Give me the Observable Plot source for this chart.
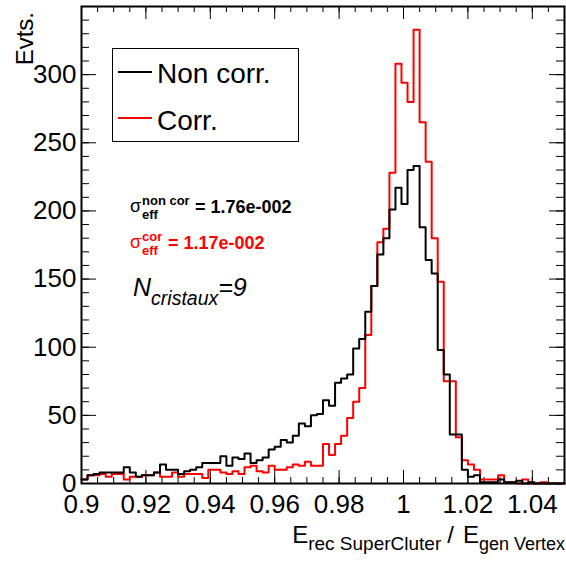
<!DOCTYPE html>
<html>
<head>
<meta charset="utf-8">
<script src="https://cdn.jsdelivr.net/npm/d3@7"></script>
<script src="https://cdn.jsdelivr.net/npm/@observablehq/plot@0.6"></script>
<style>
  html, body { margin: 0; padding: 0; background: white; }
</style>
</head>
<body>
<div id="chart"></div>
<script>
// ---- data ----
const xMin = 0.9;
const xMax = 1.05;
const nBins = 80;
const nonCorr = [
  3, 6, 7, 8, 8, 8, 8, 12, 8, 5,
  6, 6, 8, 14, 10, 10, 7, 9, 10, 12,
  15, 15, 15, 20, 13, 19, 18, 22, 15, 17,
  19, 25, 27, 32, 30, 35, 44, 42, 50, 51,
  61, 57, 74, 77, 80, 99, 106, 126, 145, 168,
  180, 201, 217, 205, 230, 233, 188, 164, 154, 98,
  80, 36, 36, 10, 5, 6, 1, 1, 1, 3,
  1, 1, 2, 0, 1, 0, 0, 0, 0, 0
];
const corr = [
  3, 6, 6, 7, 5, 7, 7, 3, 5, 5,
  6, 6, 8, 5, 5, 8, 5, 7, 7, 7,
  4, 10, 10, 8, 7, 9, 7, 12, 13, 9,
  8, 13, 10, 10, 12, 14, 13, 16, 13, 13,
  29, 21, 29, 35, 48, 60, 70, 109, 145, 177,
  187, 228, 308, 294, 280, 333, 265, 236, 180, 148,
  75, 75, 34, 17, 14, 10, 3, 3, 3, 6,
  1, 1, 0, 3, 0, 0, 1, 0, 0, 0
];
const xMajorTicks = [0.9, 0.92, 0.94, 0.96, 0.98, 1.0, 1.02, 1.04];
const yMajorTicks = [0, 50, 100, 150, 200, 250, 300];
const seriesNames = ["Non corr.", "Corr."];
const seriesColors = ["#000000", "#ff0000"];

// ---- build step data ----
const binW = (xMax - xMin) / nBins;
function steps(counts) {
  const pts = counts.map((v, i) => ({x: xMin + i * binW, y: v}));
  pts.push({x: xMax, y: counts[counts.length - 1]});
  return pts;
}

const W = 566, H = 561;
const mL = 81, mR = 2, mT = 6, mB = 78;
const pw = W - mL - mR, ph = H - mT - mB;

const xMinor = d3.range(0, 31).map(i => xMin + i * 0.005);
const yMinor = d3.range(0, 35).map(i => i * 10);
const fmtX = d => String(+d.toFixed(2));

const font = "'Liberation Sans', Arial, Helvetica, sans-serif";

const svg = Plot.plot({
  width: W, height: H,
  marginLeft: mL, marginRight: mR, marginTop: mT, marginBottom: mB,
  x: {domain: [xMin, xMax], label: null},
  y: {domain: [0, 350], label: null},
  style: {fontFamily: font, fontSize: "26px", background: "white", color: "black", overflow: "visible"},
  marks: [
    // ticks (ROOT style, inward on all sides)
    Plot.tickX(xMinor, {x: d => d, insetTop: ph - 6, stroke: "black", strokeWidth: 1}),
    Plot.tickX(xMajorTicks, {x: d => d, insetTop: ph - 13, stroke: "black", strokeWidth: 1}),
    Plot.tickX(xMinor, {x: d => d, insetBottom: ph - 6, stroke: "black", strokeWidth: 1}),
    Plot.tickX(xMajorTicks, {x: d => d, insetBottom: ph - 13, stroke: "black", strokeWidth: 1}),
    Plot.tickY(yMinor, {y: d => d, insetRight: pw - 8, stroke: "black", strokeWidth: 1}),
    Plot.tickY(yMajorTicks, {y: d => d, insetRight: pw - 15, stroke: "black", strokeWidth: 1}),
    Plot.tickY(yMinor, {y: d => d, insetLeft: pw - 8, stroke: "black", strokeWidth: 1}),
    Plot.tickY(yMajorTicks, {y: d => d, insetLeft: pw - 15, stroke: "black", strokeWidth: 1}),
    Plot.axisX(xMajorTicks, {tickSize: 0, tickPadding: 11, tickFormat: fmtX, fontSize: 26}),
    Plot.axisY(yMajorTicks, {tickSize: 0, tickPadding: 5, fontSize: 26}),
    // histograms
    Plot.line(steps(corr), {x: "x", y: "y", curve: "step-after", stroke: seriesColors[1], strokeWidth: 2}),
    Plot.line(steps(nonCorr), {x: "x", y: "y", curve: "step-after", stroke: seriesColors[0], strokeWidth: 2}),
    Plot.frame({stroke: "black", strokeWidth: 2})
  ]
});
document.getElementById("chart").appendChild(svg);

const s = d3.select(svg);
const ann = s.append("g").attr("text-anchor", "start").attr("font-family", font);

// y-axis title
ann.append("text")
  .attr("transform", "translate(33,12) rotate(-90)")
  .attr("text-anchor", "end")
  .attr("font-size", 24)
  .attr("fill", "black")
  .text("Evts.");

// x-axis title
const xt = ann.append("text")
  .attr("x", 565).attr("y", 543)
  .attr("text-anchor", "end")
  .attr("font-size", 24)
  .attr("fill", "black");
xt.append("tspan").text("E");
xt.append("tspan").attr("font-size", 19).attr("dy", 7).text("rec SuperCluter");
xt.append("tspan").attr("dy", -7).attr("dx", 6).text("/");
xt.append("tspan").attr("dx", 9).text("E");
xt.append("tspan").attr("font-size", 18).attr("dy", 7).text("gen Vertex");

// legend
const lg = ann.append("g");
lg.append("rect").attr("x", 112.5).attr("y", 48.5).attr("width", 186).attr("height", 93)
  .attr("fill", "white").attr("stroke", "black").attr("stroke-width", 1);
[[72, 83], [118, 130]].forEach(([ly, ty], i) => {
  lg.append("line").attr("x1", 118).attr("x2", 152).attr("y1", ly).attr("y2", ly)
    .attr("stroke", seriesColors[i]).attr("stroke-width", 2);
  lg.append("text").attr("x", 157).attr("y", ty).attr("text-anchor", "start")
    .attr("font-size", 28).attr("fill", "black")
    .text(seriesNames[i]);
});

// sigma annotations
function sigma(y, sup, value, color) {
  const g = ann.append("g").attr("fill", color).attr("text-anchor", "start");
  g.append("text").attr("x", 130).attr("y", y).attr("font-size", 18).text("σ");
  g.append("text").attr("x", 142).attr("y", y - 7).attr("font-size", 13).attr("font-weight", "bold").text(sup);
  g.append("text").attr("x", 142).attr("y", y + 7).attr("font-size", 13).attr("font-weight", "bold").text("eff");
  g.append("text").attr("x", sup.length > 4 ? 195 : 168).attr("y", y + 1).attr("font-size", 18).attr("font-weight", "bold").text("= " + value);
}
sigma(212, "non cor", "1.76e-002", "black");
sigma(248, "cor", "1.17e-002", "#ff0000");

// N_cristaux = 9
const nt = ann.append("text").attr("x", 133).attr("y", 296).attr("text-anchor", "start")
  .attr("font-size", 25).attr("font-style", "italic").attr("fill", "black");
nt.append("tspan").text("N");
nt.append("tspan").attr("font-size", 19.5).attr("dy", 9).text("cristaux");
nt.append("tspan").attr("dy", -9).text("=9");
</script>
</body>
</html>
